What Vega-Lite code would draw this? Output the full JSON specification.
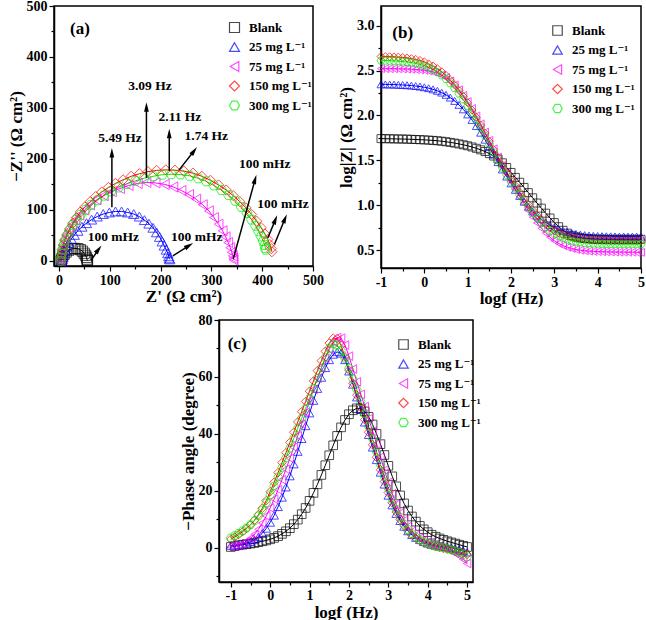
{
"$schema":"https://vega.github.io/schema/vega-lite/v6.json",
"padding":{"left":6,"top":-2,"right":0,"bottom":0},
"background":"white",
"config":{
"font":"Liberation Serif, Times New Roman, DejaVu Serif, serif",
"view":{"stroke":"black","strokeWidth":1.5},
"axis":{"grid":false,"labelFont":"Liberation Serif, Times New Roman, DejaVu Serif, serif","labelFontSize":14,"labelFontWeight":"bold","labelColor":"black","titleFont":"Liberation Serif, Times New Roman, DejaVu Serif, serif","titleFontSize":17,"titleFontWeight":"bold","titleColor":"black","domainColor":"black","domainWidth":1.5,"tickColor":"black","tickWidth":1.2,"labelPadding":2,"titlePadding":1,"labelOverlap":false,"labelFlush":false},
"legend":{"labelFont":"Liberation Serif, Times New Roman, DejaVu Serif, serif","labelFontSize":13,"labelFontWeight":"bold","labelColor":"black","symbolStrokeWidth":1.2,"rowPadding":4.5,"labelOffset":8,"padding":0},
"text":{"font":"Liberation Serif, Times New Roman, DejaVu Serif, serif","fontWeight":"bold","color":"black"}
},
"datasets":{
"nyq":[
{"s":"Blank","x":4,"y":0.5},{"s":"Blank","x":5,"y":3},{"s":"Blank","x":7,"y":8},{"s":"Blank","x":10,"y":13},{"s":"Blank","x":14,"y":17.5},{"s":"Blank","x":19,"y":21},{"s":"Blank","x":25,"y":23.5},{"s":"Blank","x":31,"y":24.5},{"s":"Blank","x":37,"y":24},{"s":"Blank","x":42,"y":22},{"s":"Blank","x":46,"y":19},{"s":"Blank","x":49.5,"y":15},{"s":"Blank","x":52,"y":11},{"s":"Blank","x":54,"y":7},{"s":"Blank","x":55,"y":3.5},{"s":"Blank","x":55.5,"y":1.5},{"s":"Blank","x":56,"y":0.5},
{"s":"25","x":5,"y":0},{"s":"25","x":6,"y":3},{"s":"25","x":7,"y":8},{"s":"25","x":9,"y":14},{"s":"25","x":12,"y":21},{"s":"25","x":15,"y":28},{"s":"25","x":19,"y":35},{"s":"25","x":24,"y":43},{"s":"25","x":30,"y":51},{"s":"25","x":37,"y":59},{"s":"25","x":45,"y":67},{"s":"25","x":54,"y":74},{"s":"25","x":64,"y":81},{"s":"25","x":75,"y":87},{"s":"25","x":87,"y":92},{"s":"25","x":99,"y":95},{"s":"25","x":111,"y":97},{"s":"25","x":123,"y":97},{"s":"25","x":135,"y":95},{"s":"25","x":147,"y":92},{"s":"25","x":158,"y":87},{"s":"25","x":168,"y":80},{"s":"25","x":177,"y":73},{"s":"25","x":185,"y":65},{"s":"25","x":192,"y":56},{"s":"25","x":198,"y":47},{"s":"25","x":203,"y":38},{"s":"25","x":207,"y":30},{"s":"25","x":211,"y":22},{"s":"25","x":214,"y":15},{"s":"25","x":216,"y":9},{"s":"25","x":217,"y":5},{"s":"25","x":218,"y":3},
{"s":"75","x":3,"y":0},{"s":"75","x":3.5,"y":5},{"s":"75","x":4,"y":12},{"s":"75","x":5,"y":20},{"s":"75","x":7,"y":30},{"s":"75","x":10,"y":40},{"s":"75","x":14,"y":50},{"s":"75","x":19,"y":60},{"s":"75","x":25,"y":70},{"s":"75","x":32,"y":80},{"s":"75","x":40,"y":90},{"s":"75","x":50,"y":100},{"s":"75","x":61,"y":110},{"s":"75","x":74,"y":120},{"s":"75","x":88,"y":128},{"s":"75","x":104,"y":136},{"s":"75","x":120,"y":142},{"s":"75","x":137,"y":148},{"s":"75","x":155,"y":152},{"s":"75","x":172,"y":154},{"s":"75","x":190,"y":153},{"s":"75","x":208,"y":150},{"s":"75","x":225,"y":145},{"s":"75","x":241,"y":138},{"s":"75","x":256,"y":130},{"s":"75","x":270,"y":121},{"s":"75","x":283,"y":110},{"s":"75","x":295,"y":98},{"s":"75","x":305,"y":85},{"s":"75","x":314,"y":72},{"s":"75","x":322,"y":59},{"s":"75","x":328,"y":47},{"s":"75","x":333,"y":36},{"s":"75","x":337,"y":26},{"s":"75","x":340,"y":17},{"s":"75","x":342,"y":10},{"s":"75","x":343,"y":5},{"s":"75","x":343.5,"y":2},
{"s":"150","x":4,"y":0},{"s":"150","x":4.5,"y":6},{"s":"150","x":5.5,"y":14},{"s":"150","x":7,"y":23},{"s":"150","x":9,"y":32},{"s":"150","x":12,"y":42},{"s":"150","x":16,"y":52},{"s":"150","x":21,"y":63},{"s":"150","x":27,"y":74},{"s":"150","x":34,"y":85},{"s":"150","x":42,"y":96},{"s":"150","x":51,"y":106},{"s":"150","x":61,"y":116},{"s":"150","x":72,"y":126},{"s":"150","x":84,"y":135},{"s":"150","x":97,"y":144},{"s":"150","x":111,"y":152},{"s":"150","x":126,"y":159},{"s":"150","x":142,"y":166},{"s":"150","x":158,"y":171},{"s":"150","x":175,"y":175},{"s":"150","x":192,"y":177.5},{"s":"150","x":210,"y":178.5},{"s":"150","x":228,"y":178},{"s":"150","x":246,"y":176},{"s":"150","x":264,"y":172},{"s":"150","x":281,"y":166},{"s":"150","x":298,"y":158},{"s":"150","x":314,"y":149},{"s":"150","x":329,"y":139},{"s":"150","x":343,"y":128},{"s":"150","x":356,"y":116},{"s":"150","x":368,"y":104},{"s":"150","x":379,"y":91},{"s":"150","x":389,"y":78},{"s":"150","x":398,"y":65},{"s":"150","x":405,"y":53},{"s":"150","x":411,"y":42},{"s":"150","x":415,"y":32},{"s":"150","x":418,"y":24},{"s":"150","x":419,"y":18},
{"s":"300","x":3.5,"y":0},{"s":"300","x":4,"y":6},{"s":"300","x":5,"y":14},{"s":"300","x":6.5,"y":22},{"s":"300","x":9,"y":31},{"s":"300","x":12,"y":40},{"s":"300","x":16,"y":50},{"s":"300","x":21,"y":60},{"s":"300","x":27,"y":70},{"s":"300","x":34,"y":80},{"s":"300","x":42,"y":90},{"s":"300","x":52,"y":100},{"s":"300","x":63,"y":110},{"s":"300","x":75,"y":119},{"s":"300","x":88,"y":128},{"s":"300","x":102,"y":136},{"s":"300","x":117,"y":144},{"s":"300","x":133,"y":151},{"s":"300","x":150,"y":157},{"s":"300","x":167,"y":162},{"s":"300","x":185,"y":166},{"s":"300","x":203,"y":169},{"s":"300","x":221,"y":170},{"s":"300","x":239,"y":169.5},{"s":"300","x":257,"y":167},{"s":"300","x":274,"y":162},{"s":"300","x":290,"y":156},{"s":"300","x":305,"y":148},{"s":"300","x":320,"y":139},{"s":"300","x":334,"y":129},{"s":"300","x":347,"y":118},{"s":"300","x":359,"y":106},{"s":"300","x":370,"y":94},{"s":"300","x":379,"y":81},{"s":"300","x":387,"y":69},{"s":"300","x":393,"y":58},{"s":"300","x":398,"y":48},{"s":"300","x":402,"y":39},{"s":"300","x":405,"y":31},{"s":"300","x":406.5,"y":25},{"s":"300","x":407,"y":22}
],
"arr":[
{"x":104,"y":105,"x2":104,"y2":212,"g":"a0"},
{"x":172,"y":163,"x2":172,"y2":302,"g":"a0"},
{"x":217,"y":177,"x2":217,"y2":250,"g":"a0"},
{"x":236,"y":178,"x2":266,"y2":216,"g":"a37"},
{"x":63,"y":1,"x2":78,"y2":23,"g":"a37"},
{"x":343,"y":4,"x2":386,"y2":160,"g":"a16"},
{"x":411,"y":45,"x2":426,"y2":81,"g":"a22"},
{"x":424,"y":32,"x2":445,"y2":83,"g":"a22"},
{"x":224,"y":10,"x2":256,"y2":30,"g":"a58"}
],
"lab":[
{"t":"5.49 Hz","x":120,"y":242},
{"t":"3.09 Hz","x":179,"y":343},
{"t":"2.11 Hz","x":238,"y":282},
{"t":"1.74 Hz","x":290,"y":245},
{"t":"100 mHz","x":405,"y":191},
{"t":"100 mHz","x":441,"y":111},
{"t":"100 mHz","x":271,"y":46},
{"t":"100 mHz","x":107,"y":46},
{"t":"(a)","x":41,"y":454}
],
"bode":[
{"s":"Blank","f":-1,"z":1.742,"p":0.3},{"s":"Blank","f":-0.9,"z":1.741,"p":0.6},{"s":"Blank","f":-0.8,"z":1.74,"p":0.9},{"s":"Blank","f":-0.7,"z":1.739,"p":1.1},{"s":"Blank","f":-0.6,"z":1.738,"p":1.3},{"s":"Blank","f":-0.5,"z":1.737,"p":1.5},{"s":"Blank","f":-0.4,"z":1.736,"p":1.7},{"s":"Blank","f":-0.3,"z":1.734,"p":2.0},{"s":"Blank","f":-0.2,"z":1.732,"p":2.3},{"s":"Blank","f":-0.1,"z":1.73,"p":2.6},{"s":"Blank","f":0,"z":1.728,"p":3.0},{"s":"Blank","f":0.1,"z":1.725,"p":3.5},{"s":"Blank","f":0.2,"z":1.722,"p":4.1},{"s":"Blank","f":0.3,"z":1.718,"p":4.9},{"s":"Blank","f":0.4,"z":1.713,"p":5.8},{"s":"Blank","f":0.5,"z":1.707,"p":6.9},{"s":"Blank","f":0.6,"z":1.7,"p":8.3},{"s":"Blank","f":0.7,"z":1.692,"p":9.9},{"s":"Blank","f":0.8,"z":1.683,"p":11.8},{"s":"Blank","f":0.9,"z":1.673,"p":14.0},{"s":"Blank","f":1,"z":1.662,"p":16.5},{"s":"Blank","f":1.1,"z":1.649,"p":19.3},{"s":"Blank","f":1.2,"z":1.634,"p":22.3},{"s":"Blank","f":1.3,"z":1.617,"p":25.6},{"s":"Blank","f":1.4,"z":1.598,"p":29.0},{"s":"Blank","f":1.5,"z":1.575,"p":32.5},{"s":"Blank","f":1.6,"z":1.548,"p":36.0},{"s":"Blank","f":1.7,"z":1.515,"p":39.3},{"s":"Blank","f":1.8,"z":1.472,"p":42.3},{"s":"Blank","f":1.9,"z":1.42,"p":44.9},{"s":"Blank","f":2,"z":1.365,"p":46.9},{"s":"Blank","f":2.1,"z":1.31,"p":48.3},{"s":"Blank","f":2.2,"z":1.255,"p":49.0},{"s":"Blank","f":2.3,"z":1.198,"p":48.9},{"s":"Blank","f":2.4,"z":1.14,"p":47.9},{"s":"Blank","f":2.5,"z":1.082,"p":46.0},{"s":"Blank","f":2.6,"z":1.024,"p":43.3},{"s":"Blank","f":2.7,"z":0.967,"p":40.0},{"s":"Blank","f":2.8,"z":0.911,"p":36.4},{"s":"Blank","f":2.9,"z":0.857,"p":32.6},{"s":"Blank","f":3,"z":0.806,"p":28.8},{"s":"Blank","f":3.1,"z":0.76,"p":25.1},{"s":"Blank","f":3.2,"z":0.72,"p":21.6},{"s":"Blank","f":3.3,"z":0.688,"p":18.4},{"s":"Blank","f":3.4,"z":0.664,"p":15.6},{"s":"Blank","f":3.5,"z":0.648,"p":13.1},{"s":"Blank","f":3.6,"z":0.637,"p":11.0},{"s":"Blank","f":3.7,"z":0.631,"p":9.2},{"s":"Blank","f":3.8,"z":0.627,"p":7.7},{"s":"Blank","f":3.9,"z":0.624,"p":6.5},{"s":"Blank","f":4,"z":0.622,"p":5.5},{"s":"Blank","f":4.1,"z":0.621,"p":4.6},{"s":"Blank","f":4.2,"z":0.621,"p":3.9},{"s":"Blank","f":4.3,"z":0.62,"p":3.3},{"s":"Blank","f":4.4,"z":0.62,"p":2.8},{"s":"Blank","f":4.5,"z":0.62,"p":2.3},{"s":"Blank","f":4.6,"z":0.62,"p":1.9},{"s":"Blank","f":4.7,"z":0.62,"p":1.5},{"s":"Blank","f":4.8,"z":0.62,"p":1.1},{"s":"Blank","f":4.9,"z":0.62,"p":0.7},{"s":"Blank","f":5,"z":0.62,"p":0.3},
{"s":"25","f":-1,"z":2.347,"p":0.8},{"s":"25","f":-0.9,"z":2.346,"p":0.9},{"s":"25","f":-0.8,"z":2.345,"p":1.1},{"s":"25","f":-0.7,"z":2.344,"p":1.3},{"s":"25","f":-0.6,"z":2.342,"p":1.6},{"s":"25","f":-0.5,"z":2.34,"p":2.1},{"s":"25","f":-0.4,"z":2.337,"p":2.8},{"s":"25","f":-0.3,"z":2.333,"p":3.8},{"s":"25","f":-0.2,"z":2.328,"p":5.1},{"s":"25","f":-0.1,"z":2.322,"p":6.8},{"s":"25","f":0,"z":2.314,"p":8.9},{"s":"25","f":0.1,"z":2.304,"p":11.4},{"s":"25","f":0.2,"z":2.291,"p":14.4},{"s":"25","f":0.3,"z":2.275,"p":17.7},{"s":"25","f":0.4,"z":2.255,"p":21.3},{"s":"25","f":0.5,"z":2.23,"p":25.2},{"s":"25","f":0.6,"z":2.199,"p":29.4},{"s":"25","f":0.7,"z":2.162,"p":33.8},{"s":"25","f":0.8,"z":2.118,"p":38.3},{"s":"25","f":0.9,"z":2.068,"p":42.8},{"s":"25","f":1,"z":2.012,"p":47.3},{"s":"25","f":1.1,"z":1.95,"p":51.7},{"s":"25","f":1.2,"z":1.882,"p":55.9},{"s":"25","f":1.3,"z":1.808,"p":59.8},{"s":"25","f":1.4,"z":1.73,"p":63.2},{"s":"25","f":1.5,"z":1.648,"p":66.0},{"s":"25","f":1.6,"z":1.564,"p":67.9},{"s":"25","f":1.7,"z":1.48,"p":68.8},{"s":"25","f":1.8,"z":1.398,"p":68.3},{"s":"25","f":1.9,"z":1.319,"p":66.0},{"s":"25","f":2,"z":1.243,"p":62.0},{"s":"25","f":2.1,"z":1.171,"p":57.4},{"s":"25","f":2.2,"z":1.103,"p":52.9},{"s":"25","f":2.3,"z":1.04,"p":48.5},{"s":"25","f":2.4,"z":0.982,"p":44.1},{"s":"25","f":2.5,"z":0.93,"p":39.7},{"s":"25","f":2.6,"z":0.884,"p":35.3},{"s":"25","f":2.7,"z":0.843,"p":30.9},{"s":"25","f":2.8,"z":0.808,"p":26.5},{"s":"25","f":2.9,"z":0.778,"p":22.3},{"s":"25","f":3,"z":0.752,"p":18.4},{"s":"25","f":3.1,"z":0.731,"p":15.0},{"s":"25","f":3.2,"z":0.714,"p":12.0},{"s":"25","f":3.3,"z":0.7,"p":9.5},{"s":"25","f":3.4,"z":0.689,"p":7.5},{"s":"25","f":3.5,"z":0.68,"p":5.9},{"s":"25","f":3.6,"z":0.673,"p":4.6},{"s":"25","f":3.7,"z":0.667,"p":3.6},{"s":"25","f":3.8,"z":0.663,"p":2.8},{"s":"25","f":3.9,"z":0.659,"p":2.1},{"s":"25","f":4,"z":0.657,"p":1.6},{"s":"25","f":4.1,"z":0.655,"p":1.2},{"s":"25","f":4.2,"z":0.654,"p":0.9},{"s":"25","f":4.3,"z":0.653,"p":0.6},{"s":"25","f":4.4,"z":0.652,"p":0.4},{"s":"25","f":4.5,"z":0.651,"p":0.2},{"s":"25","f":4.6,"z":0.651,"p":0.0},{"s":"25","f":4.7,"z":0.65,"p":-0.3},{"s":"25","f":4.8,"z":0.65,"p":-0.6},{"s":"25","f":4.9,"z":0.65,"p":-1.0},{"s":"25","f":5,"z":0.65,"p":-1.5},
{"s":"75","f":-1,"z":2.522,"p":0.4},{"s":"75","f":-0.9,"z":2.522,"p":0.6},{"s":"75","f":-0.8,"z":2.521,"p":0.9},{"s":"75","f":-0.7,"z":2.521,"p":1.4},{"s":"75","f":-0.6,"z":2.52,"p":2.2},{"s":"75","f":-0.5,"z":2.519,"p":3.3},{"s":"75","f":-0.4,"z":2.517,"p":4.7},{"s":"75","f":-0.3,"z":2.515,"p":6.5},{"s":"75","f":-0.2,"z":2.512,"p":8.7},{"s":"75","f":-0.1,"z":2.508,"p":11.2},{"s":"75","f":0,"z":2.503,"p":14.0},{"s":"75","f":0.1,"z":2.496,"p":17.1},{"s":"75","f":0.2,"z":2.486,"p":20.4},{"s":"75","f":0.3,"z":2.471,"p":23.9},{"s":"75","f":0.4,"z":2.45,"p":27.6},{"s":"75","f":0.5,"z":2.422,"p":31.4},{"s":"75","f":0.6,"z":2.385,"p":35.3},{"s":"75","f":0.7,"z":2.34,"p":39.3},{"s":"75","f":0.8,"z":2.286,"p":43.4},{"s":"75","f":0.9,"z":2.224,"p":47.5},{"s":"75","f":1,"z":2.154,"p":51.6},{"s":"75","f":1.1,"z":2.077,"p":55.6},{"s":"75","f":1.2,"z":1.994,"p":59.5},{"s":"75","f":1.3,"z":1.906,"p":63.2},{"s":"75","f":1.4,"z":1.815,"p":66.6},{"s":"75","f":1.5,"z":1.722,"p":69.7},{"s":"75","f":1.6,"z":1.628,"p":72.2},{"s":"75","f":1.7,"z":1.535,"p":73.8},{"s":"75","f":1.8,"z":1.443,"p":73.6},{"s":"75","f":1.9,"z":1.353,"p":71.2},{"s":"75","f":2,"z":1.265,"p":67.3},{"s":"75","f":2.1,"z":1.179,"p":62.8},{"s":"75","f":2.2,"z":1.096,"p":58.3},{"s":"75","f":2.3,"z":1.016,"p":53.9},{"s":"75","f":2.4,"z":0.94,"p":49.6},{"s":"75","f":2.5,"z":0.868,"p":45.3},{"s":"75","f":2.6,"z":0.802,"p":41.0},{"s":"75","f":2.7,"z":0.742,"p":36.5},{"s":"75","f":2.8,"z":0.689,"p":31.9},{"s":"75","f":2.9,"z":0.643,"p":27.3},{"s":"75","f":3,"z":0.605,"p":23.0},{"s":"75","f":3.1,"z":0.574,"p":19.0},{"s":"75","f":3.2,"z":0.55,"p":15.3},{"s":"75","f":3.3,"z":0.531,"p":12.2},{"s":"75","f":3.4,"z":0.517,"p":9.6},{"s":"75","f":3.5,"z":0.506,"p":7.5},{"s":"75","f":3.6,"z":0.498,"p":5.8},{"s":"75","f":3.7,"z":0.492,"p":4.4},{"s":"75","f":3.8,"z":0.488,"p":3.4},{"s":"75","f":3.9,"z":0.485,"p":2.6},{"s":"75","f":4,"z":0.483,"p":1.9},{"s":"75","f":4.1,"z":0.481,"p":1.3},{"s":"75","f":4.2,"z":0.48,"p":0.8},{"s":"75","f":4.3,"z":0.479,"p":0.3},{"s":"75","f":4.4,"z":0.478,"p":-0.1},{"s":"75","f":4.5,"z":0.477,"p":-0.6},{"s":"75","f":4.6,"z":0.477,"p":-1.2},{"s":"75","f":4.7,"z":0.476,"p":-1.9},{"s":"75","f":4.8,"z":0.476,"p":-2.8},{"s":"75","f":4.9,"z":0.475,"p":-4.0},{"s":"75","f":5,"z":0.475,"p":-5.5},
{"s":"150","f":-1,"z":2.657,"p":3.0},{"s":"150","f":-0.9,"z":2.656,"p":3.8},{"s":"150","f":-0.8,"z":2.655,"p":4.7},{"s":"150","f":-0.7,"z":2.653,"p":5.7},{"s":"150","f":-0.6,"z":2.65,"p":6.8},{"s":"150","f":-0.5,"z":2.646,"p":8.1},{"s":"150","f":-0.4,"z":2.641,"p":9.7},{"s":"150","f":-0.3,"z":2.634,"p":11.6},{"s":"150","f":-0.2,"z":2.625,"p":13.9},{"s":"150","f":-0.1,"z":2.613,"p":16.6},{"s":"150","f":0,"z":2.598,"p":19.7},{"s":"150","f":0.1,"z":2.574,"p":23.0},{"s":"150","f":0.2,"z":2.551,"p":26.4},{"s":"150","f":0.3,"z":2.522,"p":29.9},{"s":"150","f":0.4,"z":2.487,"p":33.4},{"s":"150","f":0.5,"z":2.446,"p":37.0},{"s":"150","f":0.6,"z":2.393,"p":40.6},{"s":"150","f":0.7,"z":2.339,"p":44.2},{"s":"150","f":0.8,"z":2.279,"p":47.8},{"s":"150","f":0.9,"z":2.213,"p":51.4},{"s":"150","f":1,"z":2.142,"p":55.0},{"s":"150","f":1.1,"z":2.06,"p":58.6},{"s":"150","f":1.2,"z":1.978,"p":62.2},{"s":"150","f":1.3,"z":1.892,"p":65.7},{"s":"150","f":1.4,"z":1.803,"p":69.0},{"s":"150","f":1.5,"z":1.712,"p":71.9},{"s":"150","f":1.6,"z":1.62,"p":73.6},{"s":"150","f":1.7,"z":1.532,"p":73.5},{"s":"150","f":1.8,"z":1.448,"p":71.0},{"s":"150","f":1.9,"z":1.368,"p":67.0},{"s":"150","f":2,"z":1.291,"p":62.4},{"s":"150","f":2.1,"z":1.218,"p":57.8},{"s":"150","f":2.2,"z":1.145,"p":53.6},{"s":"150","f":2.3,"z":1.075,"p":49.4},{"s":"150","f":2.4,"z":1.008,"p":45.0},{"s":"150","f":2.5,"z":0.945,"p":40.6},{"s":"150","f":2.6,"z":0.89,"p":36.2},{"s":"150","f":2.7,"z":0.836,"p":31.8},{"s":"150","f":2.8,"z":0.789,"p":27.4},{"s":"150","f":2.9,"z":0.749,"p":23.3},{"s":"150","f":3,"z":0.716,"p":19.4},{"s":"150","f":3.1,"z":0.695,"p":15.8},{"s":"150","f":3.2,"z":0.674,"p":12.6},{"s":"150","f":3.3,"z":0.658,"p":9.9},{"s":"150","f":3.4,"z":0.645,"p":7.7},{"s":"150","f":3.5,"z":0.635,"p":5.9},{"s":"150","f":3.6,"z":0.628,"p":4.5},{"s":"150","f":3.7,"z":0.622,"p":3.4},{"s":"150","f":3.8,"z":0.618,"p":2.5},{"s":"150","f":3.9,"z":0.615,"p":1.8},{"s":"150","f":4,"z":0.613,"p":1.2},{"s":"150","f":4.1,"z":0.611,"p":0.8},{"s":"150","f":4.2,"z":0.61,"p":0.4},{"s":"150","f":4.3,"z":0.609,"p":0.1},{"s":"150","f":4.4,"z":0.609,"p":-0.2},{"s":"150","f":4.5,"z":0.608,"p":-0.5},{"s":"150","f":4.6,"z":0.608,"p":-0.8},{"s":"150","f":4.7,"z":0.608,"p":-1.1},{"s":"150","f":4.8,"z":0.607,"p":-1.4},{"s":"150","f":4.9,"z":0.607,"p":-1.8},{"s":"150","f":5,"z":0.607,"p":-2.3},
{"s":"300","f":-1,"z":2.612,"p":3.5},{"s":"300","f":-0.9,"z":2.611,"p":4.3},{"s":"300","f":-0.8,"z":2.61,"p":5.1},{"s":"300","f":-0.7,"z":2.608,"p":6.0},{"s":"300","f":-0.6,"z":2.605,"p":7.0},{"s":"300","f":-0.5,"z":2.601,"p":8.1},{"s":"300","f":-0.4,"z":2.596,"p":9.5},{"s":"300","f":-0.3,"z":2.589,"p":11.2},{"s":"300","f":-0.2,"z":2.58,"p":13.3},{"s":"300","f":-0.1,"z":2.568,"p":15.8},{"s":"300","f":0,"z":2.553,"p":18.6},{"s":"300","f":0.1,"z":2.534,"p":21.7},{"s":"300","f":0.2,"z":2.511,"p":24.9},{"s":"300","f":0.3,"z":2.482,"p":28.2},{"s":"300","f":0.4,"z":2.447,"p":31.6},{"s":"300","f":0.5,"z":2.406,"p":35.0},{"s":"300","f":0.6,"z":2.358,"p":38.5},{"s":"300","f":0.7,"z":2.304,"p":42.0},{"s":"300","f":0.8,"z":2.244,"p":45.5},{"s":"300","f":0.9,"z":2.178,"p":49.0},{"s":"300","f":1,"z":2.107,"p":52.5},{"s":"300","f":1.1,"z":2.03,"p":56.0},{"s":"300","f":1.2,"z":1.948,"p":59.6},{"s":"300","f":1.3,"z":1.862,"p":63.2},{"s":"300","f":1.4,"z":1.773,"p":66.8},{"s":"300","f":1.5,"z":1.682,"p":70.0},{"s":"300","f":1.6,"z":1.59,"p":71.6},{"s":"300","f":1.7,"z":1.502,"p":71.2},{"s":"300","f":1.8,"z":1.418,"p":69.3},{"s":"300","f":1.9,"z":1.338,"p":66.5},{"s":"300","f":2,"z":1.261,"p":63.0},{"s":"300","f":2.1,"z":1.186,"p":59.3},{"s":"300","f":2.2,"z":1.113,"p":55.5},{"s":"300","f":2.3,"z":1.043,"p":51.4},{"s":"300","f":2.4,"z":0.976,"p":47.0},{"s":"300","f":2.5,"z":0.913,"p":42.6},{"s":"300","f":2.6,"z":0.854,"p":38.2},{"s":"300","f":2.7,"z":0.8,"p":33.7},{"s":"300","f":2.8,"z":0.753,"p":29.2},{"s":"300","f":2.9,"z":0.713,"p":24.9},{"s":"300","f":3,"z":0.68,"p":20.8},{"s":"300","f":3.1,"z":0.653,"p":17.0},{"s":"300","f":3.2,"z":0.632,"p":13.6},{"s":"300","f":3.3,"z":0.616,"p":10.7},{"s":"300","f":3.4,"z":0.603,"p":8.3},{"s":"300","f":3.5,"z":0.593,"p":6.4},{"s":"300","f":3.6,"z":0.586,"p":4.9},{"s":"300","f":3.7,"z":0.58,"p":3.7},{"s":"300","f":3.8,"z":0.576,"p":2.8},{"s":"300","f":3.9,"z":0.573,"p":2.1},{"s":"300","f":4,"z":0.571,"p":1.5},{"s":"300","f":4.1,"z":0.569,"p":1.0},{"s":"300","f":4.2,"z":0.568,"p":0.6},{"s":"300","f":4.3,"z":0.567,"p":0.3},{"s":"300","f":4.4,"z":0.566,"p":0.0},{"s":"300","f":4.5,"z":0.565,"p":-0.3},{"s":"300","f":4.6,"z":0.565,"p":-0.7},{"s":"300","f":4.7,"z":0.565,"p":-1.1},{"s":"300","f":4.8,"z":0.565,"p":-1.6},{"s":"300","f":4.9,"z":0.565,"p":-2.3},{"s":"300","f":5,"z":0.565,"p":-3.1}
]
},
"vconcat":[
{"hconcat":[
{"width":259,"height":260,
"encoding":{
"x":{"field":"x","type":"quantitative","scale":{"domain":[-10,500],"nice":false,"zero":false},"axis":{"title":"Z' (Ω cm²)","values":[0,50,100,150,200,250,300,350,400,450,500],"labelExpr":"datum.value % 100 == 0 ? datum.label : ''","tickSize":{"condition":{"test":"datum.value % 100 != 0","value":3},"value":5}}},
"y":{"field":"y","type":"quantitative","scale":{"domain":[-10,500],"nice":false,"zero":false},"axis":{"title":"−Z'' (Ω cm²)","values":[0,50,100,150,200,250,300,350,400,450,500],"labelExpr":"datum.value % 100 == 0 ? datum.label : ''","tickSize":{"condition":{"test":"datum.value % 100 != 0","value":3},"value":5}}}
},
"layer":[
{"data":{"name":"nyq"},"mark":{"type":"line","strokeWidth":1},"encoding":{"stroke":{"field":"s","type":"nominal","scale":{"domain":["300","150","75","25","Blank"],"range":["#00ee00","#ff0000","#ff00ff","#0000ff","#000000"]},"legend":null}}},
{"data":{"name":"nyq"},"mark":{"type":"point","filled":false,"strokeWidth":1,"size":105},"encoding":{
"color":{"field":"s","type":"nominal","title":null,"scale":{"domain":["Blank","25","75","150","300"],"range":["#000000","#0000ff","#ff00ff","#ff0000","#00ee00"]},"legend":{"orient":"none","legendX":174,"legendY":15,"symbolSize":100,"labelExpr":"datum.label == 'Blank' ? 'Blank' : datum.label + ' mg L⁻¹'"}},
"shape":{"field":"s","type":"nominal","title":null,"scale":{"domain":["Blank","25","75","150","300"],"range":["square","triangle-up","triangle-left","diamond","M-1,0L-0.5,-0.866L0.5,-0.866L1,0L0.5,0.866L-0.5,0.866Z"]}}}},
{"data":{"name":"arr"},"mark":{"type":"rule","color":"black","strokeWidth":1.5},"encoding":{"x2":{"field":"x2"},"y2":{"field":"y2"}}},
{"data":{"name":"arr"},"transform":[{"filter":"datum.g == 'a0'"}],"mark":{"type":"point","shape":"M0,-1L0.5,1L-0.5,1Z","filled":true,"color":"black","opacity":1,"size":90,"angle":0},"encoding":{"x":{"field":"x2","type":"quantitative","title":"Z' (Ω cm²)"},"y":{"field":"y2","type":"quantitative","title":"−Z'' (Ω cm²)"}}},
{"data":{"name":"arr"},"transform":[{"filter":"datum.g == 'a37'"}],"mark":{"type":"point","shape":"M0,-1L0.5,1L-0.5,1Z","filled":true,"color":"black","opacity":1,"size":90,"angle":37},"encoding":{"x":{"field":"x2","type":"quantitative","title":"Z' (Ω cm²)"},"y":{"field":"y2","type":"quantitative","title":"−Z'' (Ω cm²)"}}},
{"data":{"name":"arr"},"transform":[{"filter":"datum.g == 'a16'"}],"mark":{"type":"point","shape":"M0,-1L0.5,1L-0.5,1Z","filled":true,"color":"black","opacity":1,"size":90,"angle":16},"encoding":{"x":{"field":"x2","type":"quantitative","title":"Z' (Ω cm²)"},"y":{"field":"y2","type":"quantitative","title":"−Z'' (Ω cm²)"}}},
{"data":{"name":"arr"},"transform":[{"filter":"datum.g == 'a22'"}],"mark":{"type":"point","shape":"M0,-1L0.5,1L-0.5,1Z","filled":true,"color":"black","opacity":1,"size":90,"angle":22},"encoding":{"x":{"field":"x2","type":"quantitative","title":"Z' (Ω cm²)"},"y":{"field":"y2","type":"quantitative","title":"−Z'' (Ω cm²)"}}},
{"data":{"name":"arr"},"transform":[{"filter":"datum.g == 'a58'"}],"mark":{"type":"point","shape":"M0,-1L0.5,1L-0.5,1Z","filled":true,"color":"black","opacity":1,"size":90,"angle":58},"encoding":{"x":{"field":"x2","type":"quantitative","title":"Z' (Ω cm²)"},"y":{"field":"y2","type":"quantitative","title":"−Z'' (Ω cm²)"}}},
{"data":{"name":"lab"},"transform":[{"filter":"datum.t != '(a)'"}],"mark":{"type":"text","fontSize":13.5},"encoding":{"text":{"field":"t"}}},
{"data":{"name":"lab"},"transform":[{"filter":"datum.t == '(a)'"}],"mark":{"type":"text","fontSize":17},"encoding":{"text":{"field":"t"}}}
]},
{"width":260,"height":262,
"data":{"name":"bode"},
"encoding":{
"x":{"field":"f","type":"quantitative","scale":{"domain":[-1,5],"nice":false,"zero":false},"axis":{"title":"logf (Hz)","values":[-1,-0.5,0,0.5,1,1.5,2,2.5,3,3.5,4,4.5,5],"labelExpr":"round(datum.value) == datum.value ? (datum.value < 0 ? '-' + format(-datum.value, 'd') : format(datum.value, 'd')) : ''","tickSize":{"condition":{"test":"round(datum.value) != datum.value","value":3},"value":5}}},
"y":{"field":"z","type":"quantitative","scale":{"domain":[0.3,3.22],"nice":false,"zero":false},"axis":{"title":"log|Z| (Ω cm²)","values":[0.5,0.75,1,1.25,1.5,1.75,2,2.25,2.5,2.75,3],"labelExpr":"round(datum.value*2) == datum.value*2 ? format(datum.value, '.1f') : ''","tickSize":{"condition":{"test":"round(datum.value*2) != datum.value*2","value":3},"value":5}}}
},
"layer":[
{"mark":{"type":"line","strokeWidth":1},"encoding":{"stroke":{"field":"s","type":"nominal","scale":{"domain":["300","150","75","25","Blank"],"range":["#00ee00","#ff0000","#ff00ff","#0000ff","#000000"]},"legend":null}}},
{"mark":{"type":"point","filled":false,"strokeWidth":1,"size":64},"encoding":{
"color":{"field":"s","type":"nominal","title":null,"scale":{"domain":["Blank","25","75","150","300"],"range":["#000000","#0000ff","#ff00ff","#ff0000","#00ee00"]},"legend":{"orient":"none","legendX":170,"legendY":18,"symbolSize":90,"labelExpr":"datum.label == 'Blank' ? 'Blank' : datum.label + ' mg L⁻¹'"}},
"shape":{"field":"s","type":"nominal","title":null,"scale":{"domain":["Blank","25","75","150","300"],"range":["square","triangle-up","triangle-left","diamond","M-1,0L-0.5,-0.866L0.5,-0.866L1,0L0.5,0.866L-0.5,0.866Z"]}}}},
{"data":{"values":[{"f":-0.5,"z":2.92,"t":"(b)"}]},"mark":{"type":"text","fontSize":17},"encoding":{"text":{"field":"t"}}}
]}
],"spacing":11,"resolve":{"scale":{"stroke":"independent","shape":"independent","color":"independent"}}},
{"hconcat":[
{"width":124,"height":10,"view":{"stroke":null},"data":{"values":[{}]},"mark":{"type":"point","opacity":0},"encoding":{}},
{"width":254,"height":262,
"data":{"name":"bode"},
"encoding":{
"x":{"field":"f","type":"quantitative","scale":{"domain":[-1.3,5.15],"nice":false,"zero":false},"axis":{"title":"logf (Hz)","values":[-1,-0.5,0,0.5,1,1.5,2,2.5,3,3.5,4,4.5,5],"labelExpr":"round(datum.value) == datum.value ? (datum.value < 0 ? '-' + format(-datum.value, 'd') : format(datum.value, 'd')) : ''","tickSize":{"condition":{"test":"round(datum.value) != datum.value","value":3},"value":5},"titlePadding":2,"labelPadding":1}},
"y":{"field":"p","type":"quantitative","scale":{"domain":[-12,80],"nice":false,"zero":false},"axis":{"title":"−Phase angle (degree)","values":[-10,0,10,20,30,40,50,60,70,80],"labelExpr":"datum.value % 20 == 0 ? datum.label : ''","tickSize":{"condition":{"test":"datum.value % 20 != 0","value":3},"value":5}}}
},
"layer":[
{"mark":{"type":"line","strokeWidth":1},"encoding":{"stroke":{"field":"s","type":"nominal","scale":{"domain":["300","150","75","25","Blank"],"range":["#00ee00","#ff0000","#ff00ff","#0000ff","#000000"]},"legend":null}}},
{"mark":{"type":"point","filled":false,"strokeWidth":1,"size":75},"encoding":{
"color":{"field":"s","type":"nominal","title":null,"scale":{"domain":["Blank","25","75","150","300"],"range":["#000000","#0000ff","#ff00ff","#ff0000","#00ee00"]},"legend":{"orient":"none","legendX":178,"legendY":18,"symbolSize":90,"labelExpr":"datum.label == 'Blank' ? 'Blank' : datum.label + ' mg L⁻¹'"}},
"shape":{"field":"s","type":"nominal","title":null,"scale":{"domain":["Blank","25","75","150","300"],"range":["square","triangle-up","triangle-left","diamond","M-1,0L-0.5,-0.866L0.5,-0.866L1,0L0.5,0.866L-0.5,0.866Z"]}}}},
{"data":{"values":[{"f":-0.84,"p":71.7,"t":"(c)"}]},"mark":{"type":"text","fontSize":17},"encoding":{"text":{"field":"t"}}}
]}
],"spacing":0,"resolve":{"scale":{"stroke":"independent","shape":"independent","color":"independent"}}}
],
"spacing":5,
"resolve":{"scale":{"stroke":"independent","shape":"independent","color":"independent"}}
}
